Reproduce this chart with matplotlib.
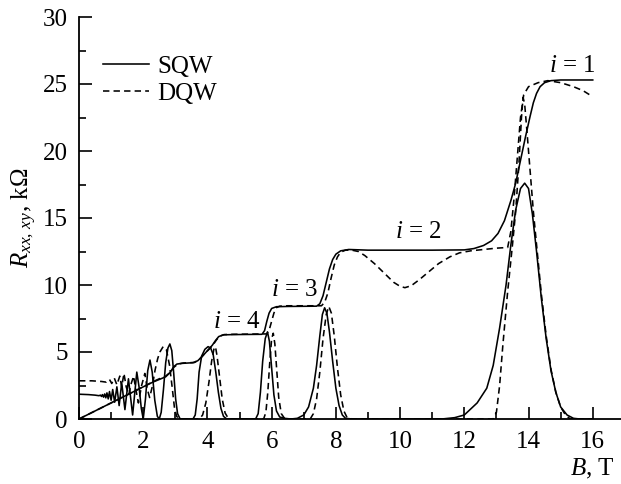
import matplotlib
matplotlib.use('Agg')
import matplotlib.pyplot as plt
from matplotlib.ticker import MultipleLocator

# ---------------- data ----------------
# SQW, longitudinal resistance R_xx (kOhm) vs B (T)
sqw_xx_B = [0.0, 0.3, 0.5, 0.62, 0.67, 0.7, 0.73, 0.765, 0.8, 0.835, 0.87, 0.91, 0.95, 1.0,
            1.05, 1.11, 1.18, 1.25, 1.33, 1.43, 1.54, 1.67, 1.8, 1.87, 1.94, 2.0, 2.07, 2.14,
            2.21, 2.28, 2.36, 2.44, 2.5, 2.56, 2.63, 2.7, 2.77, 2.83, 2.89, 2.95, 3.01, 3.07,
            3.15, 3.55, 3.62, 3.68, 3.74, 3.82, 3.92, 4.02, 4.1, 4.18, 4.26, 4.34, 4.42, 4.5,
            4.6, 5.5, 5.58, 5.65, 5.72, 5.8, 5.87, 5.93, 6.0, 6.07, 6.15, 6.25, 6.4, 6.6, 6.8,
            7.0, 7.15, 7.3, 7.4, 7.5, 7.58, 7.65, 7.72, 7.8, 7.9, 8.0, 8.1, 8.2, 8.3, 8.5,
            11.3, 11.7, 12.0, 12.4, 12.7, 12.9, 13.1, 13.3, 13.45, 13.6, 13.75, 13.88, 14.0,
            14.12, 14.25, 14.4, 14.55, 14.7, 14.85, 15.0, 15.2, 15.4, 15.6, 16.0]
sqw_xx_R = [1.85, 1.82, 1.78, 1.74, 1.78, 1.68, 1.82, 1.63, 1.87, 1.58, 1.95, 1.5, 2.05, 1.4,
            2.2, 1.25, 2.4, 1.0, 2.7, 0.7, 3.0, 0.3, 3.5, 2.4, 0.8, 0.0, 1.5, 3.6,
            4.4, 3.5, 1.4, 0.2, 0.0, 0.5, 2.2, 4.2, 5.3, 5.6, 5.1, 3.4, 1.5, 0.4,
            0.0, 0.0, 0.3, 1.5, 3.5, 4.7, 5.2, 5.4, 5.3, 4.8, 3.5, 2.0, 0.8, 0.2,
            0.0, 0.0, 0.4, 2.0, 4.3, 6.0, 6.5, 5.8, 3.8, 1.8, 0.6, 0.15, 0.05, 0.0, 0.05,
            0.3, 0.9, 2.3, 4.0, 6.2, 7.8, 8.3, 7.9, 6.5, 4.3, 2.3, 1.0, 0.3, 0.05, 0.0,
            0.0, 0.1, 0.3, 1.2, 2.3, 4.0, 6.8, 10.0, 13.0, 15.6, 17.2, 17.6, 17.2,
            15.3, 12.5, 9.0, 6.0, 3.6, 2.0, 0.9, 0.3, 0.05, 0.0, 0.0]

# SQW, Hall resistance R_xy
sqw_xy_B = [0.0, 0.5, 1.0, 1.5, 2.0, 2.3, 2.5, 2.7, 2.85, 2.95, 3.05, 3.2, 3.55, 3.7, 3.85,
            4.0, 4.15, 4.25, 4.35, 4.5, 4.8, 5.7, 5.78, 5.85, 5.92, 6.0, 6.15, 6.5, 7.4,
            7.5, 7.6, 7.7, 7.8, 7.9, 8.0, 8.15, 8.4, 9.0, 11.0, 12.0, 12.3, 12.6, 12.85,
            13.05, 13.25, 13.45, 13.6, 13.75, 13.9, 14.05, 14.15, 14.25, 14.36, 14.5, 14.7,
            15.0, 16.0]
sqw_xy_R = [0.0, 0.6, 1.2, 1.8, 2.4, 2.75, 2.95, 3.15, 3.5, 3.9, 4.1, 4.15, 4.2, 4.35, 4.7,
            5.1, 5.5, 5.85, 6.15, 6.28, 6.3, 6.32, 6.6, 7.3, 7.9, 8.25, 8.38, 8.4, 8.42,
            8.6, 9.2, 10.2, 11.2, 11.9, 12.3, 12.55, 12.65, 12.6, 12.6, 12.62, 12.72, 12.95, 13.3,
            13.85, 14.8, 16.3, 17.6, 19.3, 21.0, 22.6, 23.6, 24.3, 24.8, 25.1, 25.25,
            25.3, 25.3]

# DQW, longitudinal resistance R_xx
dqw_xx_B = [0.0, 0.4, 0.7, 0.85, 0.95, 1.02, 1.1, 1.18, 1.27, 1.33, 1.4, 1.47, 1.55, 1.62,
            1.7, 1.77, 1.85, 1.95, 2.05, 2.13, 2.2, 2.28, 2.37, 2.45, 2.52, 2.62, 2.72, 2.82,
            2.9, 2.97, 3.04, 3.12, 3.75, 3.85, 3.95, 4.05, 4.13, 4.2, 4.25, 4.3, 4.38, 4.46,
            4.55, 4.65, 4.75, 5.75, 5.82, 5.88, 5.94, 6.0, 6.05, 6.1, 6.16, 6.22, 6.3, 6.4,
            6.5, 7.2, 7.3, 7.4, 7.5, 7.6, 7.7, 7.78, 7.86, 7.95, 8.05, 8.15, 8.25, 8.35, 8.5,
            12.9, 13.0, 13.1, 13.2, 13.35, 13.5, 13.6, 13.7, 13.78, 13.83, 13.88, 13.95, 14.05,
            14.15, 14.25, 14.4, 14.55, 14.7, 14.85, 15.0, 15.15, 15.3, 16.0]
dqw_xx_R = [2.85, 2.85, 2.8, 2.75, 2.95, 2.65, 3.05, 2.55, 3.2, 2.4, 3.4, 2.4, 1.8, 2.6,
            3.2, 2.2, 1.2, 2.5, 3.4, 2.2, 1.6, 2.4, 3.66, 4.5, 5.0, 5.4, 5.2, 4.0,
            2.4, 0.9, 0.2, 0.0, 0.0, 0.3, 1.2, 2.8, 4.3, 5.2, 5.4, 4.7, 3.1, 1.5,
            0.45, 0.05, 0.0, 0.0, 0.5, 2.0, 4.2, 6.0, 6.4, 5.6, 3.6, 1.6, 0.4, 0.05,
            0.0, 0.0, 0.4, 1.5, 3.5, 6.0, 7.8, 8.4, 7.9, 6.2, 3.8, 1.8, 0.6, 0.1, 0.0,
            0.0, 0.5, 2.5, 5.5, 9.5, 13.0, 15.5, 19.0, 22.5, 24.0, 23.5, 21.5, 18.5,
            15.5, 13.0, 9.3, 6.2, 3.7, 2.0, 0.9, 0.3, 0.0, 0.0]

# DQW, Hall resistance R_xy
dqw_xy_B = [0.0, 0.5, 1.0, 1.5, 2.0, 2.3, 2.5, 2.7, 2.85, 2.95, 3.08, 3.25, 3.6, 3.75, 3.9,
            4.05, 4.18, 4.28, 4.38, 4.52, 4.8, 5.85, 5.93, 6.0, 6.07, 6.14, 6.25, 6.5, 7.55,
            7.65, 7.75, 7.85, 7.95, 8.05, 8.15, 8.3, 8.5, 8.7, 8.9, 9.2, 9.5, 9.8, 10.0,
            10.15, 10.35, 10.6, 10.9, 11.2, 11.55, 11.85, 12.2, 12.6, 13.0, 13.35, 13.45,
            13.55, 13.65, 13.75, 13.85, 14.0, 14.3, 14.6, 15.0, 15.4, 15.7, 16.0]
dqw_xy_R = [0.0, 0.6, 1.2, 1.8, 2.4, 2.78, 3.0, 3.2, 3.5, 3.85, 4.1, 4.18, 4.22, 4.45, 4.85,
            5.2, 5.55, 5.9, 6.18, 6.3, 6.32, 6.35, 6.7, 7.3, 7.9, 8.3, 8.42, 8.45, 8.45,
            8.7, 9.4, 10.5, 11.5, 12.1, 12.45, 12.6, 12.6, 12.5, 12.2, 11.6, 10.9, 10.2, 9.9,
            9.8, 9.95, 10.4, 11.0, 11.6, 12.1, 12.4, 12.55, 12.65, 12.75, 12.8, 14.0,
            16.5, 19.5, 22.5, 24.2, 24.8, 25.1, 25.25, 25.1, 24.8, 24.5, 24.05]

series_labels = ['SQW', 'DQW']
plateau_labels = ['1', '2', '3', '4']
plateau_pos_B = [15.36, 10.56, 6.70, 4.92]
plateau_pos_R = [26.35, 13.95, 9.65, 7.25]

x_ticks = [0, 2, 4, 6, 8, 10, 12, 14, 16]
y_ticks = [0, 5, 10, 15, 20, 25, 30]

# ---------------- style ----------------
plt.rcParams['font.family'] = ['Liberation Serif', 'DejaVu Serif']
plt.rcParams['mathtext.fontset'] = 'custom'
plt.rcParams['mathtext.rm'] = 'Liberation Serif'
plt.rcParams['mathtext.it'] = 'Liberation Serif:italic'
plt.rcParams['mathtext.bf'] = 'Liberation Serif:bold'

fig = plt.figure(figsize=(6.21, 4.84), dpi=100)
ax = fig.add_axes([79 / 621, 65 / 484, 542 / 621, 402 / 484])

lw = 1.15
dash = (0, (4.0, 2.6))
l1, = ax.plot(sqw_xy_B, sqw_xy_R, color='black', lw=lw, label=series_labels[0])
ax.plot(sqw_xx_B, sqw_xx_R, color='black', lw=lw)
l2, = ax.plot(dqw_xy_B, dqw_xy_R, color='black', lw=lw, linestyle=dash, label=series_labels[1])
ax.plot(dqw_xx_B, dqw_xx_R, color='black', lw=lw, linestyle=dash)

ax.set_xlim(0, 16.88)
ax.set_ylim(0, 30)
ax.set_xticks(x_ticks)
ax.set_yticks(y_ticks)
ax.xaxis.set_minor_locator(MultipleLocator(1))
ax.yaxis.set_minor_locator(MultipleLocator(2.5))

for s in ['top', 'right']:
    ax.spines[s].set_visible(False)
for s in ['left', 'bottom']:
    ax.spines[s].set_linewidth(1.3)

ax.tick_params(which='both', direction='in', labelsize=18, width=1.2, colors='black')
ax.tick_params(which='major', length=9)
ax.tick_params(which='minor', length=5)
ax.tick_params(axis='x', which='both', pad=9)
ax.tick_params(axis='y', which='both', pad=8)

ax.set_ylabel(r'$R_{xx,\,xy}$, k' + '\u03a9', fontsize=18)
ax.yaxis.set_label_coords(-0.073, 0.5)
ax.text(0.989, -0.124, r'$B$, T', transform=ax.transAxes, ha='right', va='center', fontsize=18)

for lab, bx, ry in zip(plateau_labels, plateau_pos_B, plateau_pos_R):
    ax.text(bx, ry, r'$i$ = ' + lab, ha='center', va='center', fontsize=18)

ax.legend(handles=[l1, l2], loc='upper left', bbox_to_anchor=(0.044, 0.905),
          frameon=False, fontsize=18, handlelength=1.85, handletextpad=0.32,
          labelspacing=0.18, borderpad=0, borderaxespad=0)

fig.savefig('out.png', dpi=100)
